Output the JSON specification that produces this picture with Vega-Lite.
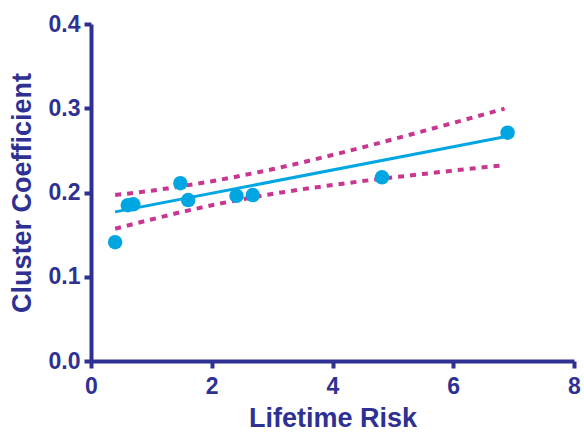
{
  "$schema": "https://vega.github.io/schema/vega-lite/v6.json",
  "width": 483,
  "height": 337,
  "autosize": {"type": "none"},
  "padding": {"left": 91, "top": 24, "right": 10, "bottom": 76},
  "background": "white",
  "datasets": {
    "points": [
      {"risk": 0.40, "cc": 0.141},
      {"risk": 0.61, "cc": 0.185},
      {"risk": 0.70, "cc": 0.186},
      {"risk": 1.48, "cc": 0.211},
      {"risk": 1.61, "cc": 0.191},
      {"risk": 2.41, "cc": 0.196},
      {"risk": 2.68, "cc": 0.197},
      {"risk": 4.82, "cc": 0.218},
      {"risk": 6.90, "cc": 0.271}
    ],
    "fit": [
      {"risk": 0.40, "cc": 0.177},
      {"risk": 6.88, "cc": 0.2665}
    ],
    "ci": [
      {"risk": 0.40, "cc": 0.197, "bound": "upper"},
      {"risk": 1.00, "cc": 0.202, "bound": "upper"},
      {"risk": 1.50, "cc": 0.2075, "bound": "upper"},
      {"risk": 2.00, "cc": 0.2133, "bound": "upper"},
      {"risk": 2.40, "cc": 0.2186, "bound": "upper"},
      {"risk": 3.00, "cc": 0.2275, "bound": "upper"},
      {"risk": 3.50, "cc": 0.2357, "bound": "upper"},
      {"risk": 4.00, "cc": 0.2445, "bound": "upper"},
      {"risk": 4.50, "cc": 0.2536, "bound": "upper"},
      {"risk": 5.00, "cc": 0.2631, "bound": "upper"},
      {"risk": 5.50, "cc": 0.2728, "bound": "upper"},
      {"risk": 6.00, "cc": 0.2826, "bound": "upper"},
      {"risk": 6.50, "cc": 0.2925, "bound": "upper"},
      {"risk": 6.85, "cc": 0.2995, "bound": "upper"},
      {"risk": 0.40, "cc": 0.157, "bound": "lower"},
      {"risk": 1.00, "cc": 0.168, "bound": "lower"},
      {"risk": 1.50, "cc": 0.1769, "bound": "lower"},
      {"risk": 2.00, "cc": 0.1849, "bound": "lower"},
      {"risk": 2.40, "cc": 0.1906, "bound": "lower"},
      {"risk": 3.00, "cc": 0.1983, "bound": "lower"},
      {"risk": 3.50, "cc": 0.2039, "bound": "lower"},
      {"risk": 4.00, "cc": 0.2089, "bound": "lower"},
      {"risk": 4.50, "cc": 0.2136, "bound": "lower"},
      {"risk": 5.00, "cc": 0.2179, "bound": "lower"},
      {"risk": 5.50, "cc": 0.2220, "bound": "lower"},
      {"risk": 6.00, "cc": 0.2260, "bound": "lower"},
      {"risk": 6.50, "cc": 0.2299, "bound": "lower"},
      {"risk": 6.85, "cc": 0.2325, "bound": "lower"}
    ]
  },
  "encoding": {
    "x": {
      "field": "risk", "type": "quantitative",
      "scale": {"domain": [0, 8], "nice": false},
      "axis": {"values": [0, 2, 4, 6, 8], "title": "Lifetime Risk", "titlePadding": 7, "labelPadding": 7}
    },
    "y": {
      "field": "cc", "type": "quantitative",
      "scale": {"domain": [0, 0.4], "nice": false},
      "axis": {"values": [0, 0.1, 0.2, 0.3, 0.4], "format": ".1f", "title": "Cluster Coefficient", "titlePadding": 12}
    }
  },
  "layer": [
    {
      "data": {"name": "ci"},
      "mark": {"type": "line", "color": "#C8378F", "strokeWidth": 4, "strokeDash": [6, 6], "clip": false},
      "encoding": {"detail": {"field": "bound", "type": "nominal"}}
    },
    {
      "data": {"name": "fit"},
      "mark": {"type": "line", "color": "#00A6E2", "strokeWidth": 3}
    },
    {
      "data": {"name": "points"},
      "mark": {"type": "circle", "color": "#00A6E2", "size": 210, "opacity": 1}
    }
  ],
  "config": {
    "view": {"stroke": null},
    "axis": {
      "grid": false,
      "labelFlush": false,
      "labelOverlap": false,
      "domainColor": "#2E3192",
      "domainWidth": 4,
      "tickColor": "#2E3192",
      "tickWidth": 4,
      "tickSize": 7,
      "labelFont": "Liberation Sans",
      "labelFontWeight": "bold",
      "labelFontSize": 23,
      "labelColor": "#2E3192",
      "labelPadding": 4,
      "titleFont": "Liberation Sans",
      "titleFontWeight": "bold",
      "titleFontSize": 27,
      "titleColor": "#2E3192"
    }
  }
}
